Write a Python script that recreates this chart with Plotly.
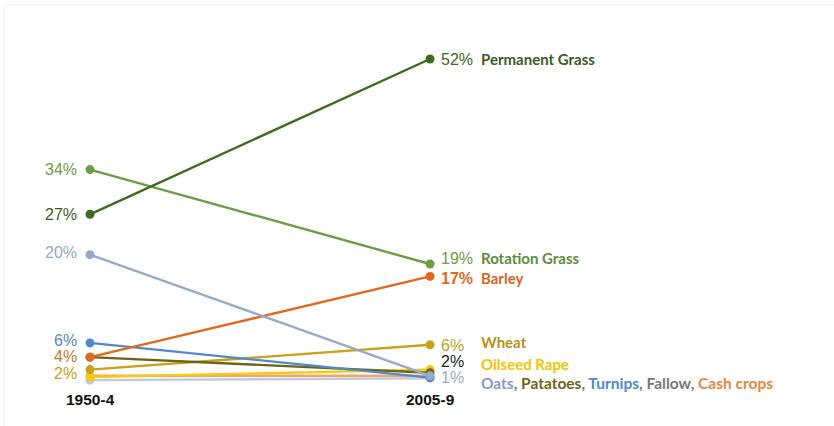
import plotly.graph_objects as go

periods = ["1950-4", "2005-9"]
series = ["Permanent Grass", "Rotation Grass", "Oats", "Barley", "Turnips",
          "Potatoes", "Wheat", "Oilseed Rape", "Cash crops", "Fallow"]
start = [27, 34.2, 20.5, 4, 6.3, 4, 2, 0.8, 1.0, 0.3]
end = [52, 19, 1, 17, 0.7, 1.5, 6, 2, 1.0, 0.6]
colors = ["#3d6b1f", "#6b9e45", "#97a8c8", "#e2691c", "#4f8bcb",
          "#6e6514", "#caa01c", "#f7c910", "#f0a868", "#c4c8dc"]

left_labels = {"Permanent Grass": ("27%", "#3d5a22", 0),
               "Rotation Grass": ("34%", "#6b9e45", 0),
               "Oats": ("20%", "#97a8c8", 2),
               "Turnips": ("6%", "#5b85c4", 2),
               "Barley": ("4%", "#c07a30", 1),
               "Wheat": ("2%", "#caa01c", -4)}
right_values = {"Permanent Grass": ("52%", "#3d6b1f", 0, False),
                "Rotation Grass": ("19%", "#6b9e45", 6, False),
                "Barley": ("17%", "#e2691c", -2, True),
                "Wheat": ("6%", "#caa01c", -1, False),
                "Oilseed Rape": ("2%", "#222222", 8, False),
                "Oats": ("1%", "#9aa8c8", -2, False)}
right_names = {"Permanent Grass": ("Permanent Grass", 0),
               "Rotation Grass": ("Rotation Grass", 6),
               "Barley": ("Barley", -2),
               "Wheat": ("Wheat", 3),
               "Oilseed Rape": ("Oilseed Rape", 6)}
name_colors = {"Permanent Grass": "#3d5a22", "Rotation Grass": "#5e8e3a", "Barley": "#d8641c",
               "Wheat": "#b8901a", "Oilseed Rape": "#f5c400"}
misc_name = ("<span style='color:#8a9cc0'>Oats</span>, "
             "<span style='color:#6e6514'>Patatoes</span>, "
             "<span style='color:#4f8bcb'>Turnips</span>, "
             "<span style='color:#777777'>Fallow</span>, "
             "<span style='color:#e8883a'>Cash crops</span>")

fig = go.Figure()
order = list(range(len(series)))[::-1]
for i in order:
    fig.add_trace(go.Scatter(
        x=[0, 1], y=[start[i], end[i]], mode="lines+markers",
        line=dict(color=colors[i], width=2.4),
        marker=dict(color=colors[i], size=9),
        name=series[i], showlegend=False, hoverinfo="skip"))

ann = []
for name, (txt, col, ys) in left_labels.items():
    i = series.index(name)
    ann.append(dict(x=0, y=start[i], xref="x", yref="y", text=txt, showarrow=False,
                    xanchor="right", yanchor="middle", xshift=-11, yshift=ys,
                    font=dict(family="Liberation Sans, Arial", size=16, color=col)))
for name, (txt, col, ys, bold) in right_values.items():
    i = series.index(name)
    t = f"<b>{txt}</b>" if bold else txt
    ann.append(dict(x=1, y=end[i], xref="x", yref="y", text=t, showarrow=False,
                    xanchor="left", yanchor="middle", xshift=9, yshift=ys,
                    font=dict(family="Liberation Sans, Arial", size=16, color=col)))
for name, (txt, ys) in right_names.items():
    i = series.index(name)
    ann.append(dict(x=1, y=end[i], xref="x", yref="y", text=f"<b>{txt}</b>", showarrow=False,
                    xanchor="left", yanchor="middle", xshift=49, yshift=ys,
                    font=dict(family="Lato, Open Sans", size=15, color=name_colors[name])))
ann.append(dict(x=1, y=end[series.index("Oats")], xref="x", yref="y", text=f"<b>{misc_name}</b>",
                showarrow=False, xanchor="left", yanchor="middle", xshift=49, yshift=-7,
                font=dict(family="Lato, Open Sans", size=15.5, color="#777777")))
for k, p in enumerate(periods):
    ann.append(dict(x=k, y=0, xref="x", yref="y", text=f"<b>{p}</b>", showarrow=False,
                    xanchor="center", yanchor="middle", yshift=-17,
                    font=dict(family="Liberation Sans Narrow, Liberation Sans", size=15.5, color="#111111")))

fig.update_layout(
    width=834, height=426, margin=dict(l=0, r=0, t=0, b=0),
    paper_bgcolor="white", plot_bgcolor="white",
    xaxis=dict(range=[-0.2647, 2.188], visible=False, fixedrange=True),
    yaxis=dict(range=[-7.08, 61.5], visible=False, fixedrange=True),
    annotations=ann,
    shapes=[dict(type="rect", xref="paper", yref="paper", x0=0.005, x1=1.2, y0=-0.2, y1=0.988,
                 line=dict(color="#f0f0f0", width=1))],
)
fig.write_html("out.html")
